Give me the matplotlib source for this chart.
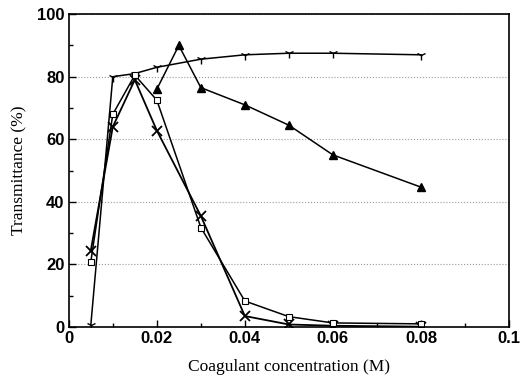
import matplotlib
matplotlib.use('Agg')
import matplotlib.pyplot as plt
from matplotlib.ticker import MultipleLocator

# coagulant concentration (M)
conc = [0.005, 0.01, 0.015, 0.02, 0.03, 0.04, 0.05, 0.06, 0.08]
conc_tri = [0.02, 0.025, 0.03, 0.04, 0.05, 0.06, 0.08]

# transmittance (%)
star_vals = [0.5, 80, 81, 83, 85.6, 87, 87.5, 87.5, 87]
tri_vals = [76, 90, 76.5, 71, 64.5, 55, 44.7]
x_vals = [24.4, 64, 79, 62.8, 35.5, 3.5, 0.8, 0.4, 0.1]
sq_vals = [20.8, 68, 80.5, 72.5, 31.8, 8.3, 3.3, 1.3, 1.0]

xticks = [0, 0.02, 0.04, 0.06, 0.08, 0.1]
xticklabels = ['0', '0.02', '0.04', '0.06', '0.08', '0.1']
yticks = [0, 20, 40, 60, 80, 100]

fig = plt.figure(figsize=(5.21, 3.82), dpi=100)
ax = fig.add_axes([0.132, 0.144, 0.845, 0.819])

ax.plot(conc, star_vals, color='black', lw=1.1, marker='1', ms=7, mew=1.0)
ax.plot(conc_tri, tri_vals, color='black', lw=1.1, marker='^', ms=6)
ax.plot(conc, x_vals, color='black', lw=1.3, marker='x', ms=7, mew=1.3)
ax.plot(conc, sq_vals, color='black', lw=1.1, marker='s', ms=5, mfc='white', mew=0.8)

ax.set_xlim(0, 0.1)
ax.set_ylim(0, 100)
ax.set_xticks(xticks)
ax.set_xticklabels(xticklabels)
ax.set_yticks(yticks)
ax.xaxis.set_minor_locator(MultipleLocator(0.01))
ax.yaxis.set_minor_locator(MultipleLocator(10))
ax.tick_params(which='both', direction='in', top=False, right=False)
ax.tick_params(which='major', length=5, width=1, pad=3)
ax.tick_params(which='minor', length=3, width=1)
for lab in ax.get_xticklabels() + ax.get_yticklabels():
	lab.set_fontfamily('Liberation Sans')
	lab.set_fontweight('bold')
	lab.set_fontsize(12)

ax.grid(axis='y', which='major', linestyle=':', color='#999999', lw=0.8)
for s in ax.spines.values():
	s.set_linewidth(1.2)

ax.set_xlabel('Coagulant concentration (M)', family='Liberation Serif', fontsize=12.5, labelpad=9)
ax.set_ylabel('Transmittance (%)', family='Liberation Serif', fontsize=12.5, labelpad=7)

fig.savefig('out.png', dpi=100)
